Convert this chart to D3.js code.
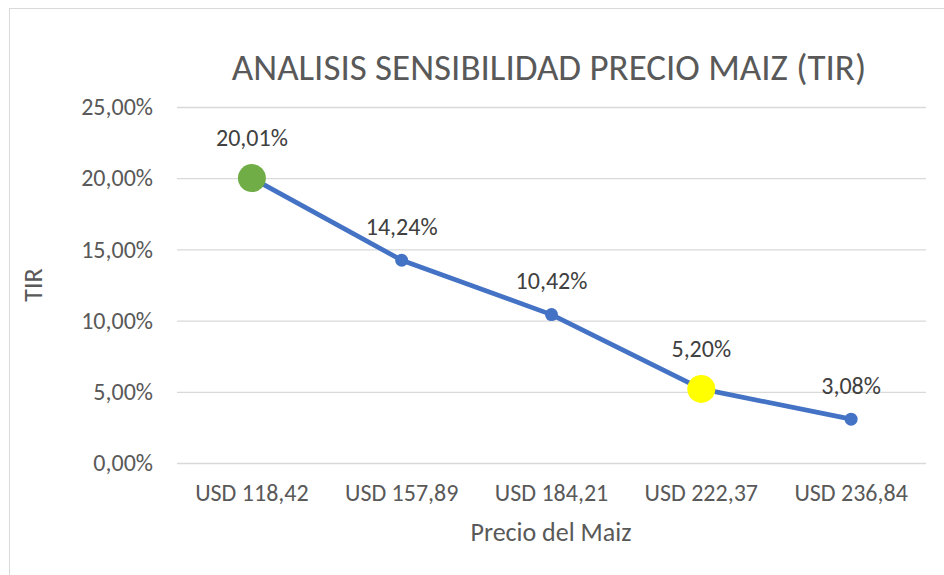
<!DOCTYPE html>
<html>
<head>
<meta charset="utf-8">
<script src="https://cdn.jsdelivr.net/npm/d3@7"></script>
<style>
  body { margin: 0; background: #fff; }
  svg text { font-family: Carlito, "Open Sans", sans-serif; }
</style>
</head>
<body>
<div id="chart"></div>
<script>
const categories = ['USD 118,42', 'USD 157,89', 'USD 184,21', 'USD 222,37', 'USD 236,84'];
const tirValues = [20.01, 14.24, 10.42, 5.20, 3.08];
const labels = ['20,01%', '14,24%', '10,42%', '5,20%', '3,08%'];
const yTicks = [0, 5, 10, 15, 20, 25];
// marcadores destacados
const highlight = { 0: '#70ad47', 3: '#ffff00' };

const W = 944;
const H = 575;
const margin = { top: 107, right: 18, bottom: 112, left: 177 };
const width = W - margin.left - margin.right;
const height = H - margin.top - margin.bottom;

const svg = d3.select('#chart').append('svg')
  .attr('width', W)
  .attr('height', H);

// borde del grafico
svg.append('rect')
  .attr('x', 9.5).attr('y', 8.5)
  .attr('width', W + 10).attr('height', H + 10)
  .attr('fill', '#fff')
  .attr('stroke', '#d9d9d9');

const g = svg.append('g')
  .attr('transform', `translate(${margin.left},${margin.top})`);

const x = d3.scaleBand().domain(categories).range([0, width]);
const y = d3.scaleLinear().domain([0, 25]).range([height, 0]);

const fmt = d => d3.format('.2f')(d).replace('.', ',') + '%';

const yAxis = d3.axisLeft(y)
  .tickValues(yTicks)
  .tickSize(-width)
  .tickPadding(24)
  .tickFormat(fmt);

g.append('g')
  .call(yAxis)
  .call(s => s.select('.domain').remove())
  .call(s => s.selectAll('line').attr('stroke', '#d9d9d9').attr('stroke-width', 1.3))
  .call(s => s.selectAll('text').attr('fill', '#595959').style('font-size', '24px'));

const xAxis = d3.axisBottom(x).tickSize(0).tickPadding(21);

g.append('g')
  .attr('transform', `translate(0,${height})`)
  .call(xAxis)
  .call(s => s.select('.domain').remove())
  .call(s => s.selectAll('text').attr('fill', '#595959').style('font-size', '24px'));

const cx = d => x(d) + x.bandwidth() / 2;

const line = d3.line()
  .x((d, i) => cx(categories[i]))
  .y(d => y(d));

g.append('path')
  .datum(tirValues)
  .attr('fill', 'none')
  .attr('stroke', '#4472c4')
  .attr('stroke-width', 4.75)
  .attr('stroke-linejoin', 'round')
  .attr('d', line);

g.selectAll('circle')
  .data(tirValues)
  .enter().append('circle')
  .attr('cx', (d, i) => cx(categories[i]))
  .attr('cy', d => y(d))
  .attr('r', (d, i) => (highlight[i] ? 14 : 6.5))
  .attr('fill', (d, i) => highlight[i] || '#4472c4');

g.selectAll('.lbl')
  .data(tirValues)
  .enter().append('text')
  .attr('class', 'lbl')
  .attr('x', (d, i) => cx(categories[i]))
  .attr('y', (d, i) => y(d) - (highlight[i] ? 32 : 25.5))
  .attr('text-anchor', 'middle')
  .attr('fill', '#404040')
  .style('font-size', '24px')
  .text((d, i) => labels[i]);

svg.append('text')
  .attr('x', 549).attr('y', 80)
  .attr('text-anchor', 'middle')
  .attr('fill', '#595959')
  .style('font-size', '37px')
  .text('ANALISIS SENSIBILIDAD PRECIO MAIZ (TIR)');

svg.append('text')
  .attr('x', 551).attr('y', 541)
  .attr('text-anchor', 'middle')
  .attr('fill', '#595959')
  .style('font-size', '26px')
  .text('Precio del Maiz');

svg.append('text')
  .attr('transform', 'translate(42,285) rotate(-90)')
  .attr('text-anchor', 'middle')
  .attr('fill', '#595959')
  .style('font-size', '26px')
  .text('TIR');
</script>
</body>
</html>
